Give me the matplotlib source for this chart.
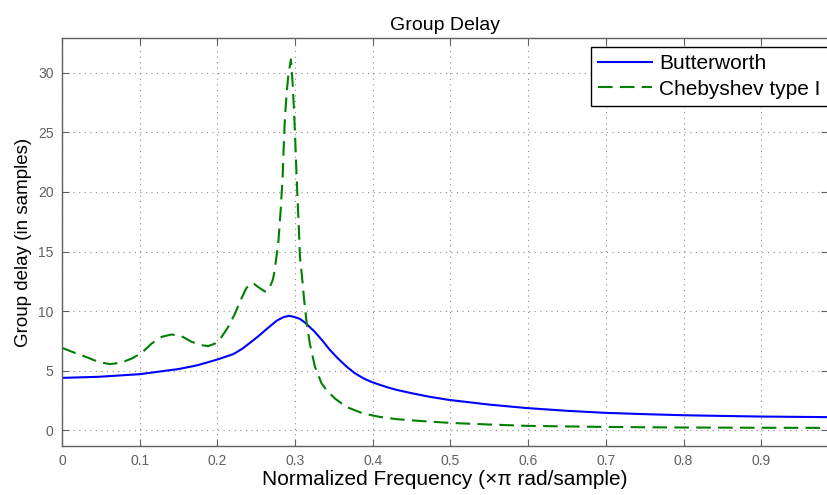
import numpy as np
import matplotlib
matplotlib.use("Agg")
import matplotlib.pyplot as plt

plt.rcParams['font.family'] = ['Liberation Sans', 'DejaVu Sans']

# values
butter_f = [0.0, 0.047, 0.10, 0.15, 0.171, 0.1776, 0.199, 0.2205, 0.232, 0.242, 0.2527,
            0.2634, 0.2763, 0.285, 0.2925, 0.300, 0.3063, 0.3127, 0.325, 0.335,
            0.3449, 0.355, 0.3664, 0.377, 0.3878, 0.398, 0.409, 0.42, 0.4308,
            0.452, 0.4736, 0.4985, 0.55, 0.598, 0.65, 0.699, 0.75, 0.799, 0.85,
            0.898, 0.95, 0.986]
butter_gd = [4.41, 4.50, 4.72, 5.15, 5.42, 5.53, 5.93, 6.40, 6.85, 7.35, 7.90,
             8.50, 9.20, 9.50, 9.61, 9.50, 9.35, 9.05, 8.30, 7.55,
             6.75, 6.05, 5.35, 4.80, 4.38, 4.08, 3.83, 3.60, 3.40,
             3.10, 2.82, 2.56, 2.17, 1.88, 1.65, 1.48, 1.37, 1.28, 1.22,
             1.17, 1.14, 1.12]

cheby_f = [0.0, 0.0167, 0.034, 0.0467, 0.062, 0.0768, 0.0897, 0.1026, 0.1154,
           0.1283, 0.1412, 0.154, 0.1669, 0.1798, 0.1883, 0.1969, 0.2055, 0.214,
           0.2227, 0.2312, 0.237, 0.242, 0.247, 0.253, 0.2613, 0.266, 0.2712,
           0.2732, 0.2784, 0.2815, 0.284, 0.2857, 0.287, 0.2892, 0.2913, 0.2947,
           0.2969, 0.2986, 0.2999, 0.3012, 0.3029, 0.3046, 0.3063, 0.3098, 0.3115,
           0.315, 0.319, 0.3256, 0.3342, 0.3406, 0.3513, 0.366, 0.3878, 0.409,
           0.4308, 0.4607, 0.4985, 0.55, 0.598, 0.65, 0.699, 0.75, 0.799, 0.85,
           0.90, 0.986]
cheby_gd = [6.93, 6.50, 6.09, 5.75, 5.56, 5.70, 6.03, 6.50, 7.29,
            7.85, 8.05, 7.90, 7.43, 7.15, 7.07, 7.29, 7.85, 8.69,
            9.80, 11.10, 11.90, 12.30, 12.30, 12.00, 11.65, 11.80, 12.60,
            13.20, 15.70, 18.50, 21.30, 24.30, 26.30, 28.25, 29.80, 31.10,
            29.10, 26.85, 24.90, 22.66, 19.87, 17.35, 14.55, 12.32, 11.06,
            9.00, 7.30, 5.33, 3.94, 3.38, 2.68, 1.98, 1.42, 1.14,
            0.95, 0.80, 0.64, 0.50, 0.39, 0.34, 0.30, 0.27, 0.25, 0.24,
            0.23, 0.22]

x_ticks = [0, 0.1, 0.2, 0.3, 0.4, 0.5, 0.6, 0.7, 0.8, 0.9]
x_labels = ["0", "0.1", "0.2", "0.3", "0.4", "0.5", "0.6", "0.7", "0.8", "0.9"]
y_ticks = [0, 5, 10, 15, 20, 25, 30]

fig = plt.figure(figsize=(8.28, 4.95), dpi=100, facecolor='w')
ax = fig.add_axes([62/828, 1-446/495, 1-62/828, (446-38)/495])

ax.plot(butter_f, butter_gd, color=(0, 0, 1), lw=1.5, label="Butterworth")
ax.plot(cheby_f, cheby_gd, color=(0, 0.5, 0), lw=1.5, dashes=(7, 3.5),
        label="Chebyshev type I")

ax.set_xlim(0, 0.986)
ax.set_ylim(-1.3, 32.9)
ax.set_xticks(x_ticks)
ax.set_xticklabels(x_labels)
ax.set_yticks(y_ticks)

gray = '#606060'
ax.tick_params(direction='in', length=5, width=0.8, colors=gray, labelsize=10,
               top=True, right=True, pad=6)
for sp in ax.spines.values():
    sp.set_color(gray)
    sp.set_linewidth(1.0)
ax.grid(True, linestyle=(0, (1, 4)), color='#8c8c8c', linewidth=0.8)

ax.set_title("Group Delay", fontsize=14, pad=6)
ax.set_xlabel(u"Normalized Frequency (\u00d7\u03c0 rad/sample)", fontsize=15, labelpad=1)
ax.set_ylabel("Group delay (in samples)", fontsize=13.5, labelpad=4)

leg = ax.legend(loc='upper right', bbox_to_anchor=(1.0, 1 - 9/408), fontsize=15,
                fancybox=False, framealpha=1, edgecolor='black', borderpad=0.35,
                labelspacing=0.3, handlelength=2.6, handletextpad=0.35,
                borderaxespad=0.0)
leg.get_frame().set_linewidth(1.0)

fig.savefig("out.png", dpi=100)
